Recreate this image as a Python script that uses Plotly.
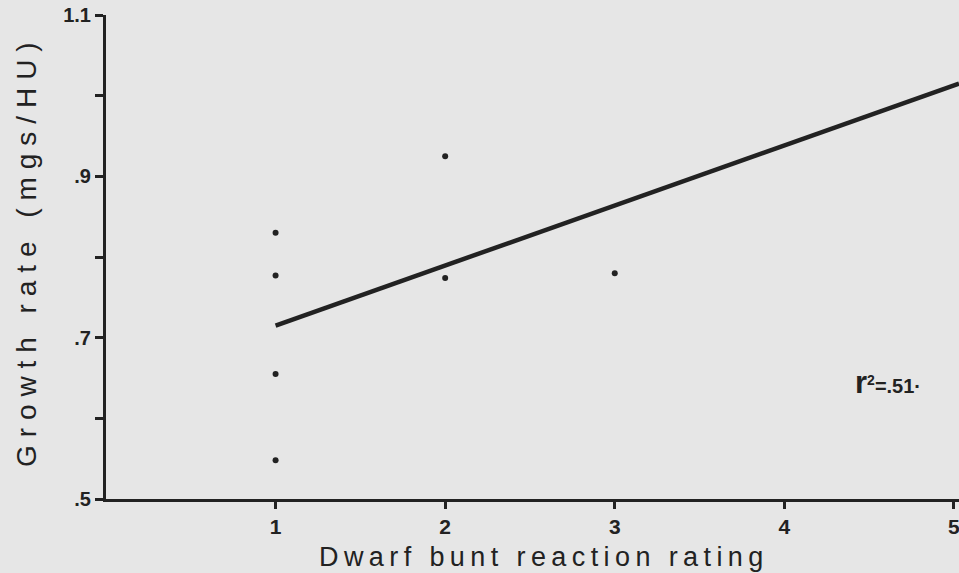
import plotly.graph_objects as go

# Data
rating = [1, 1, 1, 1, 2, 2, 3]
growth = [0.830, 0.777, 0.655, 0.548, 0.925, 0.774, 0.780]

fit_x = [1, 5.03]
fit_y = [0.715, 1.015]

y_tickvals = [0.5, 0.6, 0.7, 0.8, 0.9, 1.0, 1.1]
y_ticktext = [".5", "", ".7", "", ".9", "", "1.1"]
x_tickvals = [1, 2, 3, 4, 5]
x_ticktext = ["1", "2", "3", "4", "5"]

x_title = "Dwarf bunt reaction rating"
y_title = "Growth rate (mgs/HU)"

ink = "#222222"
paper = "#e6e6e6"
FONT = "Liberation Sans, Arial, sans-serif"
NARROW = "Liberation Sans Narrow, Liberation Sans, Arial, sans-serif"


def spaced(s, gap):
    return gap.join(list(s))


fig = go.Figure()
fig.add_trace(go.Scatter(x=fit_x, y=fit_y, mode="lines",
                         line=dict(color=ink, width=4.5), hoverinfo="skip"))
fig.add_trace(go.Scatter(x=rating, y=growth, mode="markers",
                         marker=dict(color=ink, size=6)))

fig.add_annotation(x=4.61, y=0.644, xref="x", yref="y",
                   text="<b><span style='font-size:31px'>r</span><sup>2</sup>=.51·</b>",
                   showarrow=False,
                   font=dict(family=NARROW, size=20, color=ink))

# axis titles as annotations
fig.add_annotation(x=0.51, y=0, xref="paper", yref="paper", yshift=-58,
                   xanchor="center", yanchor="middle", showarrow=False,
                   text=spaced(x_title, "\u2009"),
                   font=dict(family=FONT, size=27, color=ink))
fig.add_annotation(x=0, y=0.504, xref="paper", yref="paper", xshift=-80,
                   xanchor="center", yanchor="middle", showarrow=False, textangle=-90,
                   text=spaced(y_title, "\u2009\u200a"),
                   font=dict(family=FONT, size=28, color=ink))

fig.update_layout(
    width=959, height=573,
    margin=dict(l=106, r=0, t=15, b=74),
    paper_bgcolor=paper, plot_bgcolor=paper,
    showlegend=False,
    font=dict(family=FONT, color=ink),
    xaxis=dict(range=[0, 5.03], tickvals=x_tickvals, ticktext=x_ticktext,
               automargin=False, ticklabeloverflow="allow",
               showgrid=False, zeroline=False, showline=True, linecolor=ink,
               linewidth=3, ticks="outside", ticklen=7, tickwidth=3, tickcolor=ink,
               tickfont=dict(size=21, color=ink, family=NARROW, weight="bold")),
    yaxis=dict(range=[0.5, 1.1], tickvals=y_tickvals, ticktext=y_ticktext,
               automargin=False, ticklabeloverflow="allow",
               showgrid=False, zeroline=False, showline=True, linecolor=ink,
               linewidth=3, ticks="outside", ticklen=8, tickwidth=3, tickcolor=ink,
               tickfont=dict(size=20, color=ink, family=NARROW, weight="bold")),
)

fig.write_html(
    "out.html",
    config={"displayModeBar": False},
    post_script="document.body.style.margin='0';document.body.style.background='%s';" % paper,
)
